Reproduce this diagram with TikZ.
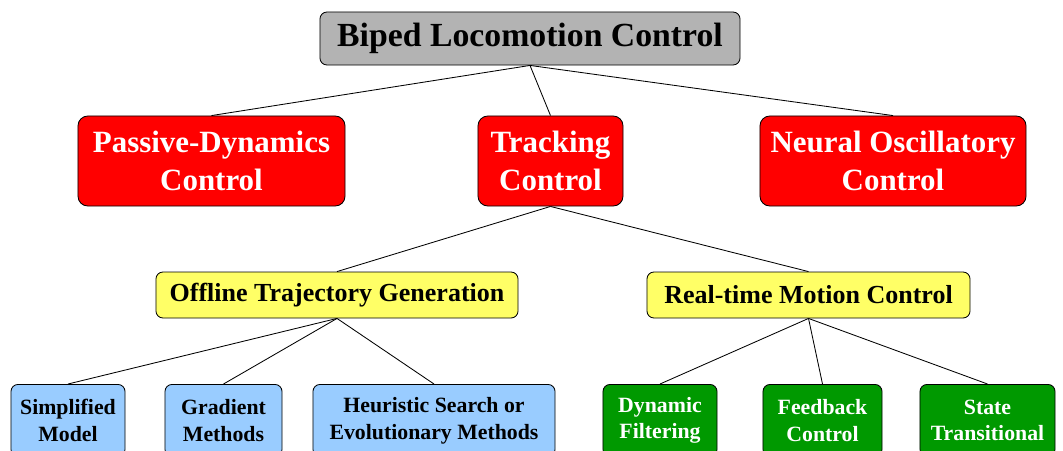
\documentclass[tikz,border=0pt]{standalone}
\usepackage{fontspec}
\setmainfont{Liberation Serif}
\definecolor{topgray}{RGB}{179,179,179}
\definecolor{catred}{RGB}{255,0,0}
\definecolor{subyellow}{RGB}{255,255,102}
\definecolor{leafblue}{RGB}{153,204,255}
\definecolor{leafgreen}{RGB}{0,153,0}
\tikzset{
 box/.style={draw,line width=0.6pt,rounded corners=5pt,align=center,inner sep=0pt,font=\bfseries},
 rootbox/.style={box,fill=topgray,minimum width=10.5cm,minimum height=1.325cm,font=\bfseries\fontsize{24}{28}\selectfont},
 catbox/.style={box,fill=catred,text=white,minimum height=2.25cm,rounded corners=7pt,font=\bfseries\fontsize{22}{27}\selectfont},
 subbox/.style={box,fill=subyellow,minimum height=1.15cm,font=\bfseries\fontsize{18.5}{22}\selectfont},
 leafbox/.style={box,anchor=north,minimum height=1.8cm,font=\bfseries\fontsize{15.5}{19}\selectfont},
 link/.style={line width=0.6pt}
}
\begin{document}
\begin{tikzpicture}[x=0.025cm,y=-0.025cm]
\useasboundingbox (0,0) rectangle (1063,450);

% root and first level
\node[rootbox] (root) at (530,38.5) {Biped Locomotion Control};
\node[catbox,minimum width=6.675cm] (passive) at (211.5,161) {Passive-Dynamics\\Control};
\node[catbox,minimum width=3.625cm] (tracking) at (550.5,161) {Tracking\\Control};
\node[catbox,minimum width=6.65cm] (neural) at (893,161) {Neural Oscillatory\\Control};

% tracking control branches
\node[subbox,minimum width=9.05cm] (offline) at (337,295) {Offline Trajectory Generation};
\node[subbox,minimum width=8.075cm] (realtime) at (808.5,295) {Real-time Motion Control};

% leaves
\node[leafbox,fill=leafblue,minimum width=2.85cm] (simple) at (68,384) {Simplified\\Model};
\node[leafbox,fill=leafblue,minimum width=2.925cm] (gradient) at (223.5,384) {Gradient\\Methods};
\node[leafbox,fill=leafblue,minimum width=6.05cm] (heuristic) at (434,384) {Heuristic Search or\\Evolutionary Methods};
\node[leafbox,fill=leafgreen,text=white,minimum width=2.85cm] (filter) at (660,384) {Dynamic\\Filtering};
\node[leafbox,fill=leafgreen,text=white,minimum width=2.975cm] (feedback) at (822.5,384) {Feedback\\Control};
\node[leafbox,fill=leafgreen,text=white,minimum width=3.375cm] (state) at (987.5,384) {State\\Transitional};

% links
\foreach \child in {passive,tracking,neural}
  \draw[link] (root.south) -- (\child.north);
\foreach \child in {offline,realtime}
  \draw[link] (tracking.south) -- (\child.north);
\foreach \child in {simple,gradient,heuristic}
  \draw[link] (offline.south) -- (\child.north);
\foreach \child in {filter,feedback,state}
  \draw[link] (realtime.south) -- (\child.north);
\end{tikzpicture}
\end{document}
